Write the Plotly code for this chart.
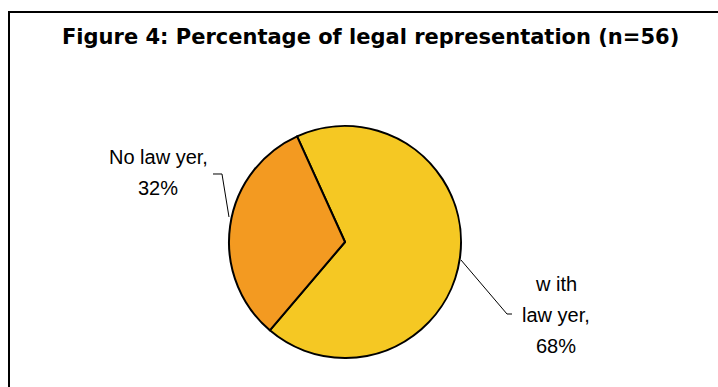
import plotly.graph_objects as go

# Survey result: share of respondents with and without a lawyer (n=56)
labels = ["with lawyer", "No lawyer"]
values = [68, 32]
colors = ["#F5C823", "#F39A21"]
label_lines = {
    "with lawyer": ["w ith", "law yer,", "68%"],
    "No lawyer": ["No law yer,", "32%"],
}
title_text = "Figure 4: Percentage of legal representation (n=56)"

W, H = 718, 387
cx, cy, r = 345, 242, 116


def px(x):
    return x / W


def py(y):
    return 1 - y / H


fig = go.Figure(
    go.Pie(
        labels=labels,
        values=values,
        sort=False,
        direction="clockwise",
        rotation=-24.4,
        marker=dict(colors=colors, line=dict(color="#000000", width=2)),
        textinfo="none",
        hoverinfo="label+percent",
        showlegend=False,
        domain=dict(x=[px(cx - r), px(cx + r)], y=[py(cy + r), py(cy - r)]),
    )
)

annotations = []
# Title
annotations.append(dict(
    text="<b>" + title_text + "</b>",
    x=px(370), y=py(37), xref="paper", yref="paper",
    xanchor="center", yanchor="middle", showarrow=False,
    font=dict(family="DejaVu Sans", size=21, color="#000000"),
))

# Data labels, one annotation per line for Excel-like line spacing
label_pos = {
    "with lawyer": (556, [284, 315, 346]),
    "No lawyer": (158, [157, 188]),
}
for lab in labels:
    x0, ys = label_pos[lab]
    for line, yy in zip(label_lines[lab], ys):
        annotations.append(dict(
            text=line, x=px(x0), y=py(yy), xref="paper", yref="paper",
            xanchor="center", yanchor="middle", showarrow=False,
            font=dict(family="Liberation Sans", size=20, color="#000000"),
        ))

shapes = []
# Leader lines from labels to slice edges
leaders = [
    [(213, 174), (222, 174), (229, 217)],
    [(461, 260), (507, 314), (512, 314)],
]
for pts in leaders:
    path = "M " + " L ".join(f"{px(x):.5f},{py(y):.5f}" for x, y in pts)
    shapes.append(dict(type="path", path=path, xref="paper", yref="paper",
                       line=dict(color="#000000", width=1)))

# Chart frame (runs past the right and bottom edges)
shapes.append(dict(type="rect", xref="paper", yref="paper",
                   x0=px(9), x1=px(760), y0=py(420), y1=py(12),
                   line=dict(color="#000000", width=2)))

fig.update_layout(
    width=W, height=H,
    margin=dict(l=0, r=0, t=0, b=0),
    paper_bgcolor="#FFFFFF",
    plot_bgcolor="#FFFFFF",
    annotations=annotations,
    shapes=shapes,
)

fig.write_html("out.html")
